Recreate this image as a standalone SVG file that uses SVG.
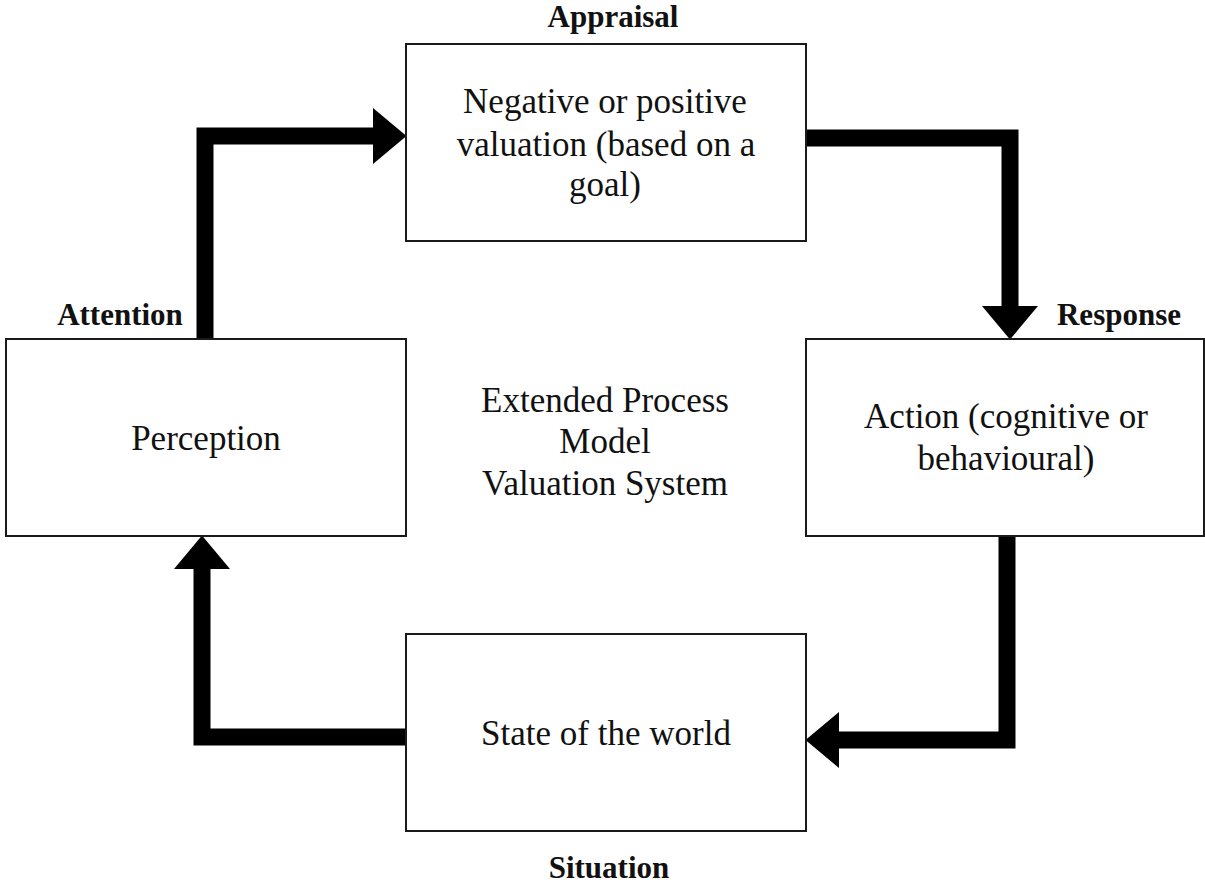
<svg xmlns="http://www.w3.org/2000/svg" width="1205" height="883" viewBox="0 0 1205 883">
<style>
.box{fill:#fff;stroke:#1a1a1a;stroke-width:2}
.t{font-family:"Liberation Serif","Times New Roman",serif;font-size:35px;fill:#111;text-anchor:middle}
.lb{font-family:"Liberation Serif","Times New Roman",serif;font-size:31px;font-weight:bold;fill:#111;text-anchor:middle}
.conn{fill:none;stroke:#000;stroke-width:17;stroke-linejoin:miter;stroke-linecap:butt}
</style>
<defs>
<marker id="head" markerUnits="userSpaceOnUse" markerWidth="34" markerHeight="56" viewBox="0 0 34 56" refX="0" refY="28" orient="auto">
<path d="M0,0 L33.5,28 L0,56 Z" fill="#000"/>
</marker>
</defs>
<rect width="1205" height="883" fill="#fff"/>
<g id="connectors">
<path class="conn" d="M205,339 V136 H373" marker-end="url(#head)"/>
<path class="conn" d="M806,138 H1010 V306" marker-end="url(#head)"/>
<path class="conn" d="M1007,536 V740 H839" marker-end="url(#head)"/>
<path class="conn" d="M406,737 H202 V569" marker-end="url(#head)"/>
</g>
<g id="appraisal">
<rect class="box" x="406" y="44" width="400" height="197"/>
<text class="lb" x="613" y="27">Appraisal</text>
<text class="t" x="605" y="113">Negative or positive</text>
<text class="t" x="606" y="156">valuation (based on a</text>
<text class="t" x="605" y="196">goal)</text>
</g>
<g id="perception">
<rect class="box" x="6" y="339" width="400" height="197"/>
<text class="lb" x="120" y="325">Attention</text>
<text class="t" x="206" y="450">Perception</text>
</g>
<g id="action">
<rect class="box" x="806" y="339" width="398" height="197"/>
<text class="lb" x="1119" y="325">Response</text>
<text class="t" x="1006" y="428">Action (cognitive or</text>
<text class="t" x="1006" y="470">behavioural)</text>
</g>
<g id="state">
<rect class="box" x="406" y="634" width="400" height="197"/>
<text class="t" x="606" y="745">State of the world</text>
<text class="lb" x="609" y="878">Situation</text>
</g>
<g id="center-label">
<text class="t" x="605" y="412">Extended Process</text>
<text class="t" x="605" y="453">Model</text>
<text class="t" x="605" y="495">Valuation System</text>
</g>
</svg>
